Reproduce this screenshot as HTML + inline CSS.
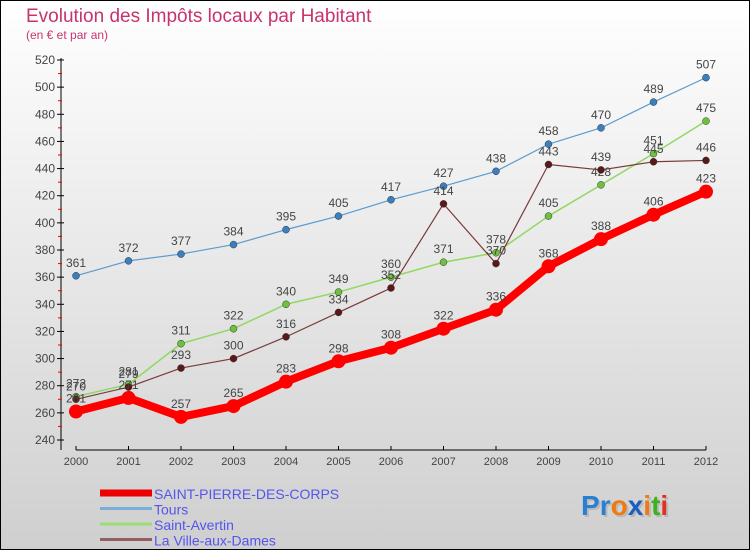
<!DOCTYPE html>
<html><head><meta charset="utf-8"><style>
body{margin:0;}
#wrap{width:750px;height:550px;position:relative;font-family:"Liberation Sans",sans-serif;}
</style></head><body>
<div id="wrap">
<svg id="chart" width="750" height="550" xmlns="http://www.w3.org/2000/svg">
<defs><linearGradient id="bg" x1="0" y1="0" x2="0" y2="1"><stop offset="0" stop-color="#ffffff"/><stop offset="1" stop-color="#cfcfcf"/></linearGradient></defs>
<rect x="0.5" y="0.5" width="749" height="549" fill="url(#bg)" stroke="#000"/>
<text x="26" y="22" font-size="19" fill="#c8336e">Evolution des Impôts locaux par Habitant</text>
<text x="26" y="39" font-size="12" fill="#c8336e">(en € et par an)</text>
<g id="axes"></g><g id="series"></g><g id="legend"></g>
<text x="583" y="517" font-size="28" font-weight="bold" fill="#aaa" opacity="0.6">Pro<tspan>x</tspan>iti</text>
<text x="581" y="515" font-size="28" font-weight="bold"><tspan fill="#2a7fd0">P</tspan><tspan fill="#2a7fd0">r</tspan><tspan fill="#f07a10">o</tspan><tspan fill="#1a5fc0">x</tspan><tspan fill="#f07a10">i</tspan><tspan fill="#40b020">t</tspan><tspan fill="#e03020">i</tspan></text>
</svg></div>
<script>
const years=["2000","2001","2002","2003","2004","2005","2006","2007","2008","2009","2010","2011","2012"];
const spdc=[261,271,257,265,283,298,308,322,336,368,388,406,423];
const tours=[361,372,377,384,395,405,417,427,438,458,470,489,507];
const avertin=[272,281,311,322,340,349,360,371,378,405,428,451,475];
const ville=[270,279,293,300,316,334,352,414,370,443,439,445,446];
const yTicks=[240,260,280,300,320,340,360,380,400,420,440,460,480,500,520];
const NS="http://www.w3.org/2000/svg";
const xs=i=>76+i*52.5;
const ys=v=>440-(v-240)*(380/280);
function mk(t,a,p){const e=document.createElementNS(NS,t);for(const k in a)e.setAttribute(k,a[k]);p.appendChild(e);return e;}
const ax=document.getElementById('axes');
let e=mk('line',{x1:61,y1:58,x2:61,y2:450,stroke:'#000'},ax);


e=mk('line',{x1:76,y1:450,x2:706,y2:450,stroke:'#000'},ax);


yTicks.forEach(v=>{const y=ys(v);
 mk('line',{x1:57,y1:y,x2:64,y2:y,stroke:'#000'},ax);
 if(v<520)mk('line',{x1:58,y1:y-13.57,x2:62,y2:y-13.57,stroke:'#e00'},ax);
 const t=mk('text',{x:55,y:y+4,'font-size':12,'text-anchor':'end',fill:'#444'},ax);t.textContent=v;
 
 });
years.forEach((yr,i)=>{const x=xs(i);
 mk('line',{x1:x,y1:446,x2:x,y2:450,stroke:'#000'},ax);
 const t=mk('text',{x:x,y:465,'font-size':11,'text-anchor':'middle',fill:'#444'},ax);t.textContent=yr;
 
 });
const sg=document.getElementById('series');
const defs=[[tours,'#5a9bd0','#3a80c0',1.2,3.5,'tours'],[avertin,'#90d860','#70c040',1.5,3.5,'saint-avertin'],[ville,'#7a3a3a','#5a1818',1.2,3.5,'ville-aux-dames'],[spdc,'#ff0000','#ff0000',8,7,'saint-pierre-des-corps']];
defs.forEach(([d,c,dc,w,r,n])=>{
 const g=mk('g',{},sg);
 
 
 const p=mk('polyline',{points:d.map((v,i)=>xs(i)+','+ys(v)).join(' '),fill:'none',stroke:c,'stroke-width':w,'stroke-linejoin':'round'},g);
 
 
 d.forEach((v,i)=>{const cc=mk('circle',{cx:xs(i),cy:ys(v),r:r,fill:dc,stroke:r>5?'none':'#333','stroke-width':0.5},g);
  
  
  const t=mk('text',{x:xs(i),y:ys(v)-9,'font-size':12,'text-anchor':'middle',fill:'#444'},g);t.textContent=v;
  
  });
});
const lg=document.getElementById('legend');
const leg=[['SAINT-PIERRE-DES-CORPS','#ee0000',7],['Tours','#7aaed8',3],['Saint-Avertin','#98e070',3],['La Ville-aux-Dames','#906060',3]];
leg.forEach(([n,c,w],i)=>{const y=493+i*15.5;
 const l=mk('line',{x1:100,y1:y,x2:152,y2:y,stroke:c,'stroke-width':w},lg);
 
 
 const t=mk('text',{x:154,y:y+6,'font-size':14,fill:'#5555ee'},lg);t.textContent=n;
 
 });
</script></body></html>
